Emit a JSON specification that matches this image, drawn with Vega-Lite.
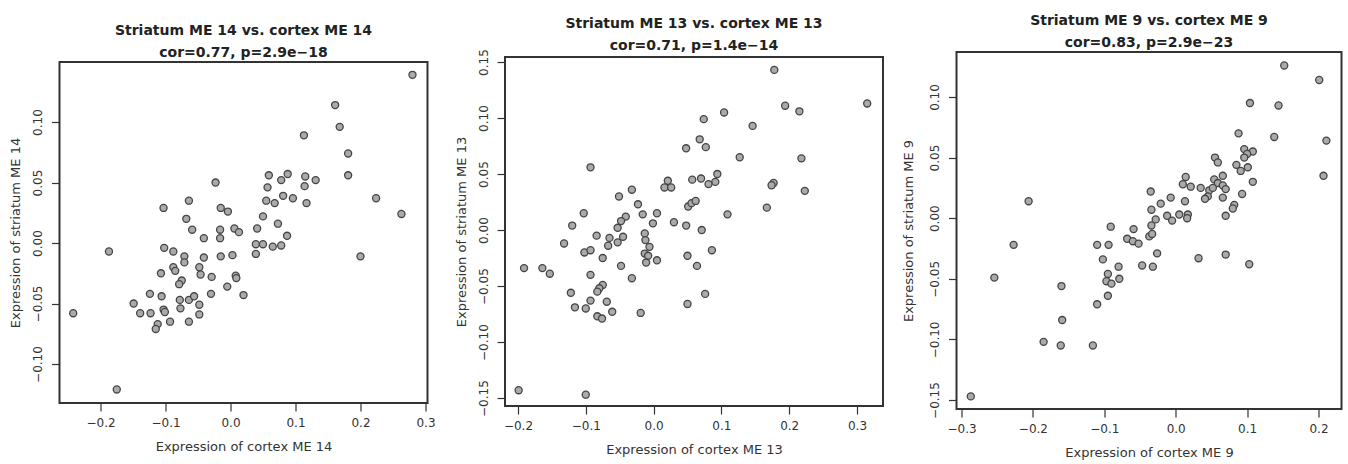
{
  "$schema": "https://vega.github.io/schema/vega-lite/v6.json",
  "padding": {"left": 8.5, "top": 8, "right": 0, "bottom": 0},
  "background": "white",
  "datasets": {
    "me14": [
      {"cortex": -0.023, "striatum": 0.050}, {"cortex": -0.064, "striatum": 0.035}, {"cortex": -0.103, "striatum": 0.029},
      {"cortex": -0.015, "striatum": 0.029}, {"cortex": -0.004, "striatum": 0.026}, {"cortex": -0.068, "striatum": 0.020},
      {"cortex": -0.059, "striatum": 0.011}, {"cortex": -0.016, "striatum": 0.011}, {"cortex": -0.016, "striatum": 0.004},
      {"cortex": -0.041, "striatum": 0.004}, {"cortex": 0.006, "striatum": 0.012}, {"cortex": 0.013, "striatum": 0.009},
      {"cortex": 0.041, "striatum": 0.012}, {"cortex": -0.187, "striatum": -0.007}, {"cortex": -0.102, "striatum": -0.004},
      {"cortex": -0.088, "striatum": -0.007}, {"cortex": -0.071, "striatum": -0.011}, {"cortex": -0.071, "striatum": -0.016},
      {"cortex": -0.041, "striatum": -0.012}, {"cortex": -0.015, "striatum": -0.011}, {"cortex": 0.003, "striatum": -0.010},
      {"cortex": 0.039, "striatum": -0.001}, {"cortex": 0.039, "striatum": -0.009}, {"cortex": -0.107, "striatum": -0.025},
      {"cortex": -0.088, "striatum": -0.020}, {"cortex": -0.085, "striatum": -0.023}, {"cortex": -0.048, "striatum": -0.020},
      {"cortex": -0.046, "striatum": -0.026}, {"cortex": -0.029, "striatum": -0.028}, {"cortex": -0.075, "striatum": -0.031},
      {"cortex": -0.079, "striatum": -0.034}, {"cortex": 0.008, "striatum": -0.027}, {"cortex": 0.009, "striatum": -0.029},
      {"cortex": -0.005, "striatum": -0.036}, {"cortex": -0.124, "striatum": -0.042}, {"cortex": -0.106, "striatum": -0.044},
      {"cortex": -0.030, "striatum": -0.042}, {"cortex": 0.020, "striatum": -0.043}, {"cortex": -0.078, "striatum": -0.047},
      {"cortex": -0.064, "striatum": -0.047}, {"cortex": -0.056, "striatum": -0.044}, {"cortex": -0.048, "striatum": -0.051},
      {"cortex": -0.077, "striatum": -0.054}, {"cortex": -0.149, "striatum": -0.050}, {"cortex": -0.103, "striatum": -0.055},
      {"cortex": -0.101, "striatum": -0.057}, {"cortex": -0.139, "striatum": -0.058}, {"cortex": -0.123, "striatum": -0.058},
      {"cortex": -0.048, "striatum": -0.059}, {"cortex": -0.064, "striatum": -0.065}, {"cortex": -0.093, "striatum": -0.065},
      {"cortex": -0.112, "striatum": -0.067}, {"cortex": -0.115, "striatum": -0.071}, {"cortex": -0.242, "striatum": -0.058},
      {"cortex": -0.175, "striatum": -0.121}, {"cortex": 0.280, "striatum": 0.139}, {"cortex": 0.161, "striatum": 0.114},
      {"cortex": 0.168, "striatum": 0.096}, {"cortex": 0.113, "striatum": 0.089}, {"cortex": 0.181, "striatum": 0.074},
      {"cortex": 0.181, "striatum": 0.056}, {"cortex": 0.059, "striatum": 0.056}, {"cortex": 0.078, "striatum": 0.052},
      {"cortex": 0.088, "striatum": 0.057}, {"cortex": 0.057, "striatum": 0.046}, {"cortex": 0.115, "striatum": 0.055},
      {"cortex": 0.131, "striatum": 0.052}, {"cortex": 0.114, "striatum": 0.047}, {"cortex": 0.055, "striatum": 0.035},
      {"cortex": 0.068, "striatum": 0.033}, {"cortex": 0.081, "striatum": 0.039}, {"cortex": 0.096, "striatum": 0.037},
      {"cortex": 0.117, "striatum": 0.033}, {"cortex": 0.224, "striatum": 0.037}, {"cortex": 0.263, "striatum": 0.024},
      {"cortex": 0.050, "striatum": 0.022}, {"cortex": 0.073, "striatum": 0.016}, {"cortex": 0.087, "striatum": 0.006},
      {"cortex": 0.050, "striatum": -0.001}, {"cortex": 0.065, "striatum": -0.003}, {"cortex": 0.078, "striatum": -0.002},
      {"cortex": 0.200, "striatum": -0.011}
    ],
    "me13": [
      {"cortex": 0.074, "striatum": 0.099}, {"cortex": 0.068, "striatum": 0.081}, {"cortex": 0.048, "striatum": 0.073},
      {"cortex": -0.093, "striatum": 0.056}, {"cortex": 0.021, "striatum": 0.044}, {"cortex": 0.016, "striatum": 0.038},
      {"cortex": 0.026, "striatum": 0.038}, {"cortex": 0.057, "striatum": 0.045}, {"cortex": 0.070, "striatum": 0.046},
      {"cortex": -0.032, "striatum": 0.036}, {"cortex": -0.051, "striatum": 0.030}, {"cortex": -0.103, "striatum": 0.015},
      {"cortex": -0.023, "striatum": 0.023}, {"cortex": -0.016, "striatum": 0.014}, {"cortex": 0.005, "striatum": 0.015},
      {"cortex": 0.051, "striatum": 0.021}, {"cortex": 0.056, "striatum": 0.024}, {"cortex": 0.062, "striatum": 0.026},
      {"cortex": -0.041, "striatum": 0.012}, {"cortex": -0.048, "striatum": 0.008}, {"cortex": -0.053, "striatum": 0.002},
      {"cortex": -0.001, "striatum": 0.006}, {"cortex": 0.030, "striatum": 0.007}, {"cortex": 0.048, "striatum": 0.004},
      {"cortex": 0.071, "striatum": 0.000}, {"cortex": -0.120, "striatum": 0.004}, {"cortex": -0.084, "striatum": -0.005},
      {"cortex": -0.065, "striatum": -0.007}, {"cortex": -0.067, "striatum": -0.014}, {"cortex": -0.053, "striatum": -0.011},
      {"cortex": -0.045, "striatum": -0.006}, {"cortex": -0.013, "striatum": -0.003}, {"cortex": -0.012, "striatum": -0.009},
      {"cortex": -0.006, "striatum": -0.015}, {"cortex": -0.013, "striatum": -0.021}, {"cortex": -0.008, "striatum": -0.023},
      {"cortex": -0.011, "striatum": -0.029}, {"cortex": 0.005, "striatum": -0.027}, {"cortex": -0.132, "striatum": -0.012},
      {"cortex": -0.102, "striatum": -0.020}, {"cortex": -0.093, "striatum": -0.018}, {"cortex": -0.075, "striatum": -0.025},
      {"cortex": 0.050, "striatum": -0.023}, {"cortex": 0.064, "striatum": -0.032}, {"cortex": -0.191, "striatum": -0.034},
      {"cortex": -0.164, "striatum": -0.034}, {"cortex": -0.153, "striatum": -0.039}, {"cortex": -0.048, "striatum": -0.032},
      {"cortex": -0.032, "striatum": -0.043}, {"cortex": -0.093, "striatum": -0.040}, {"cortex": -0.075, "striatum": -0.049},
      {"cortex": -0.080, "striatum": -0.052}, {"cortex": -0.083, "striatum": -0.055}, {"cortex": -0.122, "striatum": -0.056},
      {"cortex": -0.093, "striatum": -0.063}, {"cortex": -0.100, "striatum": -0.070}, {"cortex": -0.116, "striatum": -0.069},
      {"cortex": -0.069, "striatum": -0.064}, {"cortex": -0.061, "striatum": -0.073}, {"cortex": -0.083, "striatum": -0.077},
      {"cortex": -0.076, "striatum": -0.079}, {"cortex": -0.019, "striatum": -0.074}, {"cortex": 0.050, "striatum": -0.066},
      {"cortex": 0.076, "striatum": -0.057}, {"cortex": -0.199, "striatum": -0.143}, {"cortex": -0.100, "striatum": -0.147},
      {"cortex": 0.178, "striatum": 0.143}, {"cortex": 0.194, "striatum": 0.111}, {"cortex": 0.215, "striatum": 0.106},
      {"cortex": 0.315, "striatum": 0.113}, {"cortex": 0.104, "striatum": 0.105}, {"cortex": 0.146, "striatum": 0.093},
      {"cortex": 0.077, "striatum": 0.074}, {"cortex": 0.127, "striatum": 0.065}, {"cortex": 0.218, "striatum": 0.064},
      {"cortex": 0.094, "striatum": 0.050}, {"cortex": 0.091, "striatum": 0.043}, {"cortex": 0.081, "striatum": 0.041},
      {"cortex": 0.177, "striatum": 0.042}, {"cortex": 0.174, "striatum": 0.040}, {"cortex": 0.223, "striatum": 0.035},
      {"cortex": 0.167, "striatum": 0.020}, {"cortex": 0.109, "striatum": 0.014}, {"cortex": 0.086, "striatum": -0.018}
    ],
    "me9": [
      {"cortex": -0.206, "striatum": 0.014}, {"cortex": -0.227, "striatum": -0.022}, {"cortex": -0.254, "striatum": -0.049},
      {"cortex": -0.287, "striatum": -0.147}, {"cortex": -0.160, "striatum": -0.056}, {"cortex": -0.159, "striatum": -0.084},
      {"cortex": -0.185, "striatum": -0.102}, {"cortex": -0.161, "striatum": -0.105}, {"cortex": -0.116, "striatum": -0.105},
      {"cortex": -0.091, "striatum": -0.007}, {"cortex": -0.110, "striatum": -0.022}, {"cortex": -0.094, "striatum": -0.022},
      {"cortex": -0.102, "striatum": -0.034}, {"cortex": -0.080, "striatum": -0.040}, {"cortex": -0.095, "striatum": -0.046},
      {"cortex": -0.097, "striatum": -0.052}, {"cortex": -0.090, "striatum": -0.054}, {"cortex": -0.079, "striatum": -0.050},
      {"cortex": -0.095, "striatum": -0.064}, {"cortex": -0.110, "striatum": -0.071}, {"cortex": -0.059, "striatum": -0.009},
      {"cortex": -0.068, "striatum": -0.017}, {"cortex": -0.060, "striatum": -0.019}, {"cortex": -0.052, "striatum": -0.021},
      {"cortex": -0.035, "striatum": 0.022}, {"cortex": -0.034, "striatum": 0.007}, {"cortex": -0.034, "striatum": -0.006},
      {"cortex": -0.037, "striatum": -0.015}, {"cortex": -0.047, "striatum": -0.039}, {"cortex": -0.032, "striatum": -0.040},
      {"cortex": 0.152, "striatum": 0.126}, {"cortex": 0.201, "striatum": 0.114}, {"cortex": 0.104, "striatum": 0.095},
      {"cortex": 0.144, "striatum": 0.093}, {"cortex": 0.088, "striatum": 0.070}, {"cortex": 0.138, "striatum": 0.067},
      {"cortex": 0.211, "striatum": 0.064}, {"cortex": 0.207, "striatum": 0.035}, {"cortex": 0.096, "striatum": 0.057},
      {"cortex": 0.108, "striatum": 0.055}, {"cortex": 0.100, "striatum": 0.053}, {"cortex": 0.096, "striatum": 0.050},
      {"cortex": 0.055, "striatum": 0.050}, {"cortex": 0.059, "striatum": 0.046}, {"cortex": 0.085, "striatum": 0.044},
      {"cortex": 0.091, "striatum": 0.039}, {"cortex": 0.101, "striatum": 0.042}, {"cortex": 0.108, "striatum": 0.030},
      {"cortex": 0.014, "striatum": 0.034}, {"cortex": 0.010, "striatum": 0.028}, {"cortex": 0.021, "striatum": 0.026},
      {"cortex": 0.035, "striatum": 0.025}, {"cortex": 0.054, "striatum": 0.032}, {"cortex": 0.066, "striatum": 0.035},
      {"cortex": 0.059, "striatum": 0.029}, {"cortex": 0.066, "striatum": 0.027}, {"cortex": 0.070, "striatum": 0.024},
      {"cortex": 0.047, "striatum": 0.023}, {"cortex": 0.045, "striatum": 0.018}, {"cortex": 0.041, "striatum": 0.016},
      {"cortex": 0.052, "striatum": 0.025}, {"cortex": 0.066, "striatum": 0.017}, {"cortex": 0.093, "striatum": 0.020},
      {"cortex": 0.082, "striatum": 0.011}, {"cortex": 0.080, "striatum": 0.008}, {"cortex": 0.070, "striatum": 0.002},
      {"cortex": -0.007, "striatum": 0.017}, {"cortex": -0.021, "striatum": 0.012}, {"cortex": 0.013, "striatum": 0.014},
      {"cortex": 0.005, "striatum": 0.003}, {"cortex": 0.017, "striatum": 0.003}, {"cortex": 0.016, "striatum": 0.000},
      {"cortex": -0.012, "striatum": 0.002}, {"cortex": -0.005, "striatum": -0.002}, {"cortex": -0.028, "striatum": -0.001},
      {"cortex": -0.033, "striatum": -0.013}, {"cortex": -0.026, "striatum": -0.029}, {"cortex": 0.032, "striatum": -0.033},
      {"cortex": 0.070, "striatum": -0.030}, {"cortex": 0.103, "striatum": -0.038}
    ]
  },
  "spacing": 17.5,
  "hconcat": [
    {
      "spacing": 0,
      "vconcat": [
        {"width": 10, "height": 15, "data": {"values": []}, "mark": "point", "view": {"stroke": null}},
        {
          "width": 368, "height": 341,
          "data": {"name": "me14"},
          "title": {"text": ["Striatum ME 14 vs. cortex ME 14", "cor=0.77, p=2.9e\u221218"]},
          "mark": {"type": "point", "shape": "circle", "size": 50, "filled": true, "fill": "#aaaaaa", "stroke": "#444444", "strokeWidth": 1.3, "opacity": 1},
          "encoding": {
            "x": {"field": "cortex", "type": "quantitative",
                  "scale": {"domain": [-0.2631, 0.3031], "nice": false, "zero": false},
                  "axis": {"values": [-0.2, -0.1, 0, 0.1, 0.2, 0.3], "format": ".1f", "title": "Expression of cortex ME 14"}},
            "y": {"field": "striatum", "type": "quantitative",
                  "scale": {"domain": [-0.1322, 0.1496], "nice": false, "zero": false},
                  "axis": {"values": [-0.1, -0.05, 0, 0.05, 0.1], "format": ".2f", "title": "Expression of striatum ME 14", "titlePadding": 9}}
          }
        }
      ]
    },
    {
      "spacing": 0,
      "vconcat": [
        {"width": 10, "height": 7, "data": {"values": []}, "mark": "point", "view": {"stroke": null}},
        {
          "width": 378, "height": 349,
          "data": {"name": "me13"},
          "title": {"text": ["Striatum ME 13 vs. cortex ME 13", "cor=0.71, p=1.4e\u221214"], "offset": -4},
          "mark": {"type": "point", "shape": "circle", "size": 50, "filled": true, "fill": "#aaaaaa", "stroke": "#444444", "strokeWidth": 1.3, "opacity": 1},
          "encoding": {
            "x": {"field": "cortex", "type": "quantitative",
                  "scale": {"domain": [-0.2191, 0.3383], "nice": false, "zero": false},
                  "axis": {"values": [-0.2, -0.1, 0, 0.1, 0.2, 0.3], "format": ".1f", "title": "Expression of cortex ME 13"}},
            "y": {"field": "striatum", "type": "quantitative",
                  "scale": {"domain": [-0.1571, 0.1545], "nice": false, "zero": false},
                  "axis": {"values": [-0.15, -0.1, -0.05, 0, 0.05, 0.1, 0.15], "format": ".2f", "title": "Expression of striatum ME 13", "titlePadding": 8.5}}
          }
        }
      ]
    },
    {
      "spacing": 0,
      "vconcat": [
        {"width": 10, "height": 5, "data": {"values": []}, "mark": "point", "view": {"stroke": null}},
        {
          "width": 385, "height": 357,
          "data": {"name": "me9"},
          "title": {"text": ["Striatum ME 9 vs. cortex ME 9", "cor=0.83, p=2.9e\u221223"]},
          "mark": {"type": "point", "shape": "circle", "size": 50, "filled": true, "fill": "#aaaaaa", "stroke": "#444444", "strokeWidth": 1.3, "opacity": 1},
          "encoding": {
            "x": {"field": "cortex", "type": "quantitative",
                  "scale": {"domain": [-0.307, 0.2322], "nice": false, "zero": false},
                  "axis": {"values": [-0.3, -0.2, -0.1, 0, 0.1, 0.2], "format": ".1f", "title": "Expression of cortex ME 9"}},
            "y": {"field": "striatum", "type": "quantitative",
                  "scale": {"domain": [-0.1574, 0.1371], "nice": false, "zero": false},
                  "axis": {"values": [-0.15, -0.1, -0.05, 0, 0.05, 0.1], "format": ".2f", "title": "Expression of striatum ME 9", "titlePadding": 13}}
          }
        }
      ]
    }
  ],
  "config": {
    "view": {"stroke": "#333333", "strokeWidth": 2},
    "title": {"font": "DejaVu Sans", "fontSize": 14, "fontWeight": "bold", "color": "#222222", "lineHeight": 22, "offset": 2, "anchor": "middle", "frame": "group"},
    "axis": {
      "labelFont": "DejaVu Sans", "labelFontSize": 12, "labelColor": "#333333",
      "titleFont": "DejaVu Sans", "titleFontSize": 13, "titleFontWeight": "normal", "titleColor": "#333333",
      "tickColor": "#333333", "tickSize": 8, "tickWidth": 1.2, "domain": false, "grid": false
    },
    "axisX": {"labelPadding": 6, "titlePadding": 12},
    "axisY": {"labelAngle": -90, "labelAlign": "center", "labelBaseline": "bottom", "labelPadding": 7}
  }
}
